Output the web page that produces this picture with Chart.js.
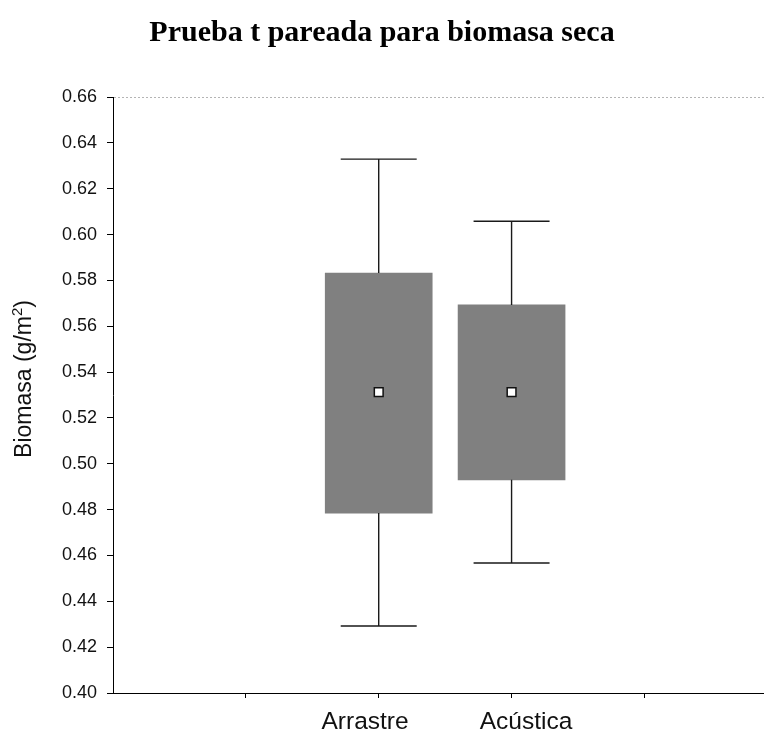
<!DOCTYPE html>
<html>
<head>
<meta charset="utf-8">
<script src="https://cdn.jsdelivr.net/npm/chart.js@4.4.0/dist/chart.umd.min.js"></script>
<style>
  html, body { margin: 0; padding: 0; background: #fff; }
  canvas { display: block; }
</style>
</head>
<body>
<canvas id="c" width="764" height="733"></canvas>
<script>
// ---- data ----
const categories = ['Arrastre', 'Acústica'];
const categoryPos = [2, 3];
const labelPos = [1.897, 3.109];
const boxLow = [0.4785, 0.4930];
const boxHigh = [0.5832, 0.5693];
const whiskerLow = [0.4292, 0.4567];
const whiskerHigh = [0.6329, 0.6058];
const means = [0.5313, 0.5313];
const xTickPos = [1, 2, 3, 4];
const xRange = [0, 4.9];
const yRange = [0.40, 0.66];
const yStep = 0.02;

const titleText = 'Prueba t pareada para biomasa seca';
const yTitleMain = 'Biomasa (g/m';
const yTitleSup = '2';
const yTitleEnd = ')';

// ---- build datasets ----
const CAP_HALF = 0.286;
const barData = categories.map((c, i) => ({ x: categoryPos[i], y: [boxLow[i], boxHigh[i]] }));
const whiskerData = [];
categories.forEach((c, i) => {
  const x = categoryPos[i];
  whiskerData.push({ x: x - CAP_HALF, y: whiskerHigh[i] }, { x: x + CAP_HALF, y: whiskerHigh[i] }, { x: x, y: null });
  whiskerData.push({ x: x, y: whiskerHigh[i] }, { x: x, y: boxHigh[i] }, { x: x, y: null });
  whiskerData.push({ x: x, y: boxLow[i] }, { x: x, y: whiskerLow[i] }, { x: x, y: null });
  whiskerData.push({ x: x - CAP_HALF, y: whiskerLow[i] }, { x: x + CAP_HALF, y: whiskerLow[i] }, { x: x, y: null });
});
const meanData = categories.map((c, i) => ({ x: categoryPos[i], y: means[i] }));
const xLabelMap = {};
categories.forEach((c, i) => { xLabelMap[labelPos[i]] = c; });
const allXTicks = xTickPos.concat(labelPos).sort((a, b) => a - b);

const yTitlePlugin = {
  id: 'yTitle',
  afterDraw(chart) {
    const ctx = chart.ctx;
    ctx.save();
    ctx.translate(23, 379);
    ctx.rotate(-Math.PI / 2);
    const mainFont = '23px "Liberation Sans", Arial, sans-serif';
    const supFont = '15px "Liberation Sans", Arial, sans-serif';
    ctx.font = mainFont;
    const w1 = ctx.measureText(yTitleMain).width;
    const w3 = ctx.measureText(yTitleEnd).width;
    ctx.font = supFont;
    const w2 = ctx.measureText(yTitleSup).width;
    const total = w1 + w2 + w3;
    let x0 = -total / 2;
    ctx.fillStyle = '#111';
    ctx.textAlign = 'left';
    ctx.textBaseline = 'alphabetic';
    ctx.font = mainFont;
    ctx.fillText(yTitleMain, x0, 8);
    ctx.font = supFont;
    ctx.fillText(yTitleSup, x0 + w1, -1);
    ctx.font = mainFont;
    ctx.fillText(yTitleEnd, x0 + w1 + w2, 8);
    ctx.restore();
  }
};

new Chart(document.getElementById('c'), {
  type: 'bar',
  data: {
    datasets: [
      {
        type: 'scatter',
        data: meanData,
        pointStyle: 'rect',
        pointRadius: 6.2,
        pointBackgroundColor: '#ffffff',
        pointBorderColor: '#111',
        pointBorderWidth: 1.5,
        order: 0
      },
      {
        type: 'line',
        data: whiskerData,
        borderColor: '#1a1a1a',
        borderWidth: 1.4,
        pointRadius: 0,
        spanGaps: false,
        fill: false,
        tension: 0,
        order: 1
      },
      {
        type: 'bar',
        data: barData,
        backgroundColor: '#808080',
        borderWidth: 0,
        barThickness: 107,
        order: 2
      }
    ]
  },
  options: {
    responsive: false,
    animation: false,
    layout: { autoPadding: false, padding: { left: 0, right: 0, top: 0, bottom: 0 } },
    plugins: {
      legend: { display: false },
      tooltip: { enabled: false },
      title: {
        display: true,
        text: titleText,
        color: '#000',
        font: { family: '"Liberation Serif", "Times New Roman", serif', size: 30, weight: 'bold', lineHeight: 1.2 },
        padding: { top: 15, bottom: 46 }
      }
    },
    scales: {
      x: {
        type: 'linear',
        min: xRange[0],
        max: xRange[1],
        offset: false,
        afterBuildTicks: (s) => { s.ticks = allXTicks.map(v => ({ value: v })); },
        afterFit: (s) => { s.height = 40; s.paddingLeft = 0; s.paddingRight = 0; },
        ticks: {
          autoSkip: false,
          maxRotation: 0,
          padding: 10,
          color: '#111',
          font: { family: '"Liberation Sans", Arial, sans-serif', size: 24.5 },
          callback: (v) => xLabelMap[v] || ''
        },
        grid: {
          offset: false,
          drawOnChartArea: false,
          color: 'rgba(0,0,0,0)',
          tickColor: (ctx) => (ctx.tick && xTickPos.includes(ctx.tick.value)) ? '#000' : 'rgba(0,0,0,0)',
          tickLength: 5,
          tickWidth: 1
        },
        border: { display: true, color: '#000', width: 1 }
      },
      y: {
        type: 'linear',
        min: yRange[0],
        max: yRange[1],
        beginAtZero: false,
        afterFit: (s) => { s.width = 113; },
        ticks: {
          stepSize: yStep,
          padding: 10,
          color: '#111',
          font: { family: '"Liberation Sans", Arial, sans-serif', size: 18 },
          callback: (v) => Number(v).toFixed(2)
        },
        grid: {
          drawOnChartArea: true,
          color: (ctx) => (ctx.tick && ctx.tick.value > yRange[1] - yStep / 2) ? '#b4b4b4' : 'rgba(0,0,0,0)',
          lineWidth: 1,
          tickColor: '#000',
          tickLength: 6,
          tickWidth: 1
        },
        border: { display: true, color: '#000', width: 1, dash: [2, 2] }
      }
    }
  },
  plugins: [yTitlePlugin]
});
</script>
</body>
</html>
